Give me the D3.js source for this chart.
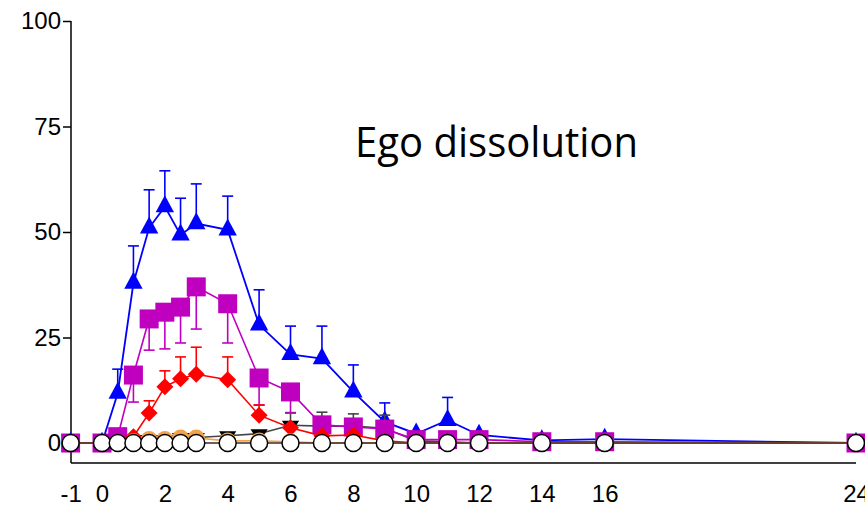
<!DOCTYPE html>
<html><head><meta charset="utf-8">
<script src="https://cdn.jsdelivr.net/npm/d3@7"></script>
<style>body{margin:0;background:#fff} svg{display:block}</style>
</head><body>
<svg id="c" width="865" height="510"></svg>
<script>
// ---- data ----
const times = [-1, 0, 0.5, 1, 1.5, 2, 2.5, 3, 4, 5, 6, 7, 8, 9, 10, 11, 12, 14, 16, 24];
const xTickValues = [-1, 0, 2, 4, 6, 8, 10, 12, 14, 16, 24];
const xTickLabels = ["-1", "0", "2", "4", "6", "8", "10", "12", "14", "16", "24"];
const yTickValues = [0, 25, 50, 75, 100];
const title = "Ego dissolution";

const blueMean  = [0, 0, 11.8, 37.9, 51, 56, 49.3, 52, 50.5, 28, 21, 20, 12.1, 5, 2.2, 5.4, 1.9, 0.6, 0.9, 0];
const blueErr   = [0, 0, 5.7, 8.8, 9, 8.5, 8.7, 9.4, 8, 8.3, 6.7, 7.7, 6.4, 4.5, 0, 5.4, 0, 0, 0, 0];
const magMean   = [0, 0, 1.5, 16.1, 29.4, 31, 32.2, 37, 33, 15.4, 12.1, 4.3, 3.8, 3.3, 0.8, 0.8, 0.8, 0.3, 0.3, 0];
const magErr    = [0, 0, 0, 6.4, 7.4, 8.7, 8.5, 10, 9.3, 6.4, 5, 0, 0, 0, 0, 0, 0, 0, 0, 0];
const redMean   = [0, 0, 0, 1.5, 7.1, 13.3, 15.2, 16.3, 15, 6.6, 3.6, 1.7, 1.9, 0.5, 0, 0, 0, 0, 0, 0];
const redErr    = [0, 0, 0, 0, 2.9, 3.8, 5.2, 6.4, 5.4, 2.4, 0, 0, 0, 0, 0, 0, 0, 0, 0, 0];
const blackMean = [0, 0, 0, 0.8, 0.8, 0.8, 1.3, 1.3, 1.7, 2.2, 4.2, 4, 4, 3.5, 0.5, 0.3, 0, 0, 0, 0];
const blackErr  = [0, 0, 0, 0, 0, 0, 0, 0, 0, 0, 3.0, 3.3, 2.9, 3.1, 0, 0, 0, 0, 0, 0];
const orangeMean= [0, 0, 0, 0.3, 0.8, 0.8, 1.2, 1.2, 0.5, 0.5, 0.3, 0, 0, 0, 0, 0, 0, 0, 0, 0];
const placeboMean=[0, 0, 0, 0, 0, 0, 0, 0, 0, 0, 0, 0, 0, 0, 0, 0, 0, 0, 0, 0];

// ---- scales ----
const svg = d3.select("#c");
const x = d3.scaleLinear().domain([-1, 24]).range([70.6, 856]);
const y = d3.scaleLinear().domain([0, 100]).range([443, 21]);
const axisY0 = 463;
const axisX0 = 71;
const FONT = "'Liberation Sans', Arial, sans-serif";

// ---- symbol types ----
const triUp = { draw(ctx, s) { const w = s * 1.08, h = s; ctx.moveTo(0, -h * 2 / 3); ctx.lineTo(w / 2, h / 3); ctx.lineTo(-w / 2, h / 3); ctx.closePath(); } };
const triDown = { draw(ctx, s) { const w = s * 1.15, h = s * 0.9; ctx.moveTo(0, h * 2 / 3); ctx.lineTo(w / 2, -h / 3); ctx.lineTo(-w / 2, -h / 3); ctx.closePath(); } };
const sq = { draw(ctx, s) { ctx.rect(-s / 2, -s / 2, s, s); } };
const dia = { draw(ctx, s) { const r = s / 2; ctx.moveTo(0, -r); ctx.lineTo(r, 0); ctx.lineTo(0, r); ctx.lineTo(-r, 0); ctx.closePath(); } };
const circ = { draw(ctx, s) { ctx.moveTo(s, 0); ctx.arc(0, 0, s, 0, 2 * Math.PI); } };

const series = [
  { mean: blueMean, err: blueErr, dir: 1, color: "#0000ff", errColor: "#0000ff", sym: triUp, size: 17, fill: "#0000ff", stroke: "none", lw: 1.8 },
  { mean: blackMean, err: blackErr, dir: 1, color: "#444444", errColor: "#444444", sym: triDown, size: 15, fill: "#000000", stroke: "none", lw: 1.6 },
  { mean: magMean, err: magErr, dir: -1, color: "#c000c0", errColor: "#c000c0", sym: sq, size: 19, fill: "#bf00bf", stroke: "none", lw: 1.6 },
  { mean: redMean, err: redErr, dir: 1, color: "#ff0000", errColor: "#ff0000", sym: dia, size: 17, fill: "#ff0000", stroke: "none", lw: 1.6 },
  { mean: orangeMean, err: null, dir: 1, color: "#f4a24a", errColor: "#f4a24a", sym: circ, size: 8.5, fill: "#f4a24a", stroke: "none", lw: 1.6 },
  { mean: placeboMean, err: null, dir: 1, color: "#3a2a2a", errColor: "#000", sym: circ, size: 8.5, fill: "#ffffff", stroke: "#000000", lw: 1.6 }
];

// ---- axes ----
const gy = svg.append("g").attr("transform", `translate(${axisX0},0)`)
  .call(d3.axisLeft(y).tickValues(yTickValues).tickSize(8).tickPadding(2).tickSizeOuter(0));
gy.select(".domain").remove();
gy.append("line").attr("x1", 0).attr("x2", 0).attr("y1", y(100)).attr("y2", axisY0)
  .attr("stroke", "#000").attr("stroke-width", 1.5);
gy.selectAll(".tick line").attr("stroke", "#000").attr("stroke-width", 1.5);
gy.selectAll(".tick text").attr("font-family", FONT).attr("font-size", 24).attr("fill", "#000");

const gx = svg.append("g").attr("transform", `translate(0,${axisY0})`)
  .call(d3.axisBottom(x).tickValues(xTickValues).tickSize(0).tickPadding(22)
    .tickFormat((d, i) => xTickLabels[i]));
gx.select(".domain").remove();
gx.append("line").attr("x1", axisX0).attr("x2", x(24)).attr("y1", 0).attr("y2", 0)
  .attr("stroke", "#000").attr("stroke-width", 1.5);
gx.selectAll(".tick text").attr("font-family", FONT).attr("font-size", 24).attr("fill", "#000");

// ---- series ----
const line = d3.line().x(d => x(d.t)).y(d => y(d.v));
series.forEach(s => {
  const pts = times.map((t, i) => ({ t, v: s.mean[i], e: s.err ? s.err[i] : 0 }));
  const g = svg.append("g");
  g.append("path").datum(pts).attr("d", line).attr("fill", "none")
    .attr("stroke", s.color).attr("stroke-width", s.lw);
  const eb = pts.filter(p => p.e > 0);
  const eg = g.selectAll(".eb").data(eb).join("g").attr("stroke", s.errColor).attr("stroke-width", 1.6);
  eg.append("line").attr("x1", p => x(p.t)).attr("x2", p => x(p.t))
    .attr("y1", p => y(p.v)).attr("y2", p => y(p.v + s.dir * p.e));
  eg.append("line").attr("x1", p => x(p.t) - 5.5).attr("x2", p => x(p.t) + 5.5)
    .attr("y1", p => y(p.v + s.dir * p.e)).attr("y2", p => y(p.v + s.dir * p.e));
  g.selectAll(".m").data(pts).join("path")
    .attr("d", d3.symbol().type(s.sym).size(s.size))
    .attr("transform", p => `translate(${x(p.t)},${y(p.v)})`)
    .attr("fill", s.fill).attr("stroke", s.stroke).attr("stroke-width", 1.5);
});

// ---- title ----
svg.append("text").attr("x", 355).attr("y", 157).text(title)
  .attr("font-family", "'Open Sans', 'Noto Sans', sans-serif").attr("font-size", 42)
  .attr("textLength", 283).attr("lengthAdjust", "spacingAndGlyphs").attr("fill", "#000");
</script>
</body></html>
